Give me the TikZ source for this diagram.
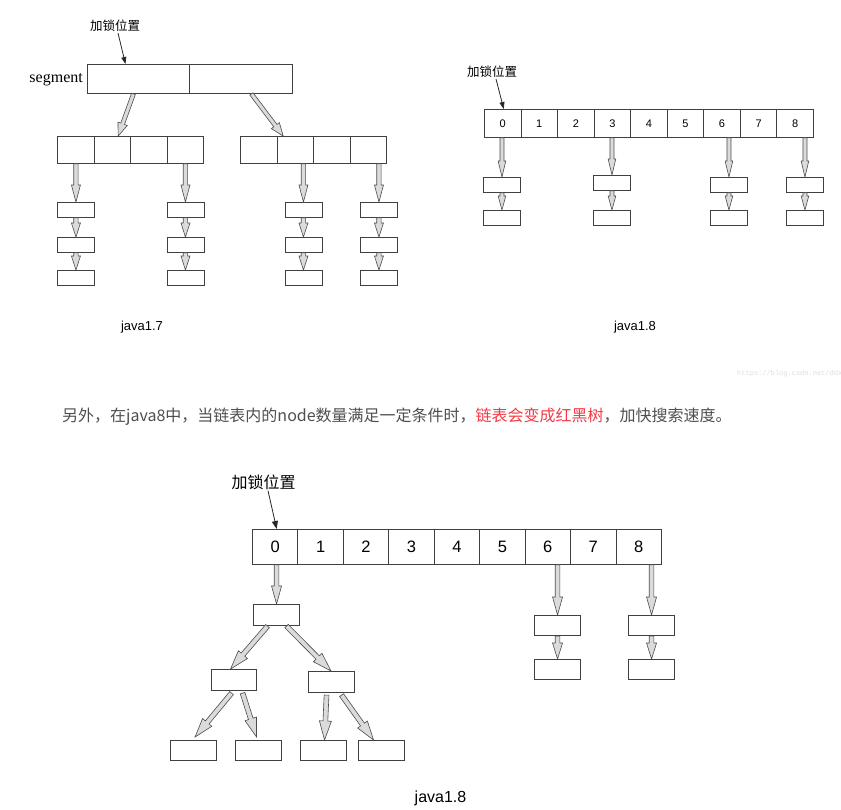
\documentclass[tikz,border=0pt]{standalone}
\usepackage{fontspec}
\setmainfont{Liberation Sans}
\newfontfamily\cjkfont{Noto Sans CJK SC}
\newfontfamily\timesfont{Liberation Serif}
\newfontfamily\wmfont{Liberation Mono}
\usetikzlibrary{calc,arrows.meta}

\definecolor{bodytext}{HTML}{4F4F4F}
\definecolor{hilite}{HTML}{F33B45}

\tikzset{
  cellbox/.style={draw=black!75, line width=0.9pt, fill=white, inner sep=0pt, anchor=north west},
  sz/.style 2 args={minimum width=#1pt, minimum height=#2pt},
  fat/.style={draw=black!70, fill=black!14, line width=0.6pt, line join=miter},
  pointer/.style={-{Triangle[length=7pt,width=5pt]}, line width=0.8pt, black!85},
  lock/.style={font=\cjkfont\fontsize{12.5}{12.5}\selectfont, inner sep=1pt},
  caption/.style={font=\fontsize{13}{13}\selectfont, inner sep=0pt},
}

% hollow block arrow: #1 shaft half width, #2 head half width, #3 head length, #4 from, #5 to
\newcommand\fatarrow[5]{%
  \path #4 coordinate (fA) #5 coordinate (fB);
  \path ($(fB)!#3pt!(fA)$) coordinate (fH);
  \filldraw[fat] ($(fA)!#1pt!90:(fB)$) -- ($(fH)!#1pt!90:(fB)$) -- ($(fH)!#2pt!90:(fB)$)
    -- (fB) -- ($(fH)!#2pt!-90:(fB)$) -- ($(fH)!#1pt!-90:(fB)$) -- ($(fA)!#1pt!-90:(fB)$) -- cycle;
}

\begin{document}
\begin{tikzpicture}[x=1pt,y=-1pt]
\useasboundingbox[fill=white] (0,0) rectangle (841,809);

% ---------------- java 1.7: segments ----------------
\node[lock] (k1) at (115,26) {加锁位置};
\node[anchor=base east, inner sep=0pt, font=\timesfont\fontsize{16}{16}\selectfont] (seglabel) at (83,82) {segment};
\node[cellbox, sz={102}{29}] (s1) at (87,64) {};
\node[cellbox, sz={103}{29}] (s2) at (189,64) {};
\draw[pointer] ([xshift=3pt]k1.south) -- ([xshift=-13pt]s1.north);

\foreach \i in {1,...,4} {
  \node[cellbox, sz={36.5}{27}] (L\i) at ({57+36.5*(\i-1)},136) {};
  \node[cellbox, sz={36.5}{27}] (R\i) at ({240+36.5*(\i-1)},136) {};
}
\fatarrow{2}{5}{13}{([xshift=-5pt]s1.south)}{([xshift=6pt]L2.north)}
\fatarrow{2}{5}{13}{([xshift=10.5pt]s2.south)}{([xshift=-12pt]R2.north)}

% linked lists hanging off the buckets
\foreach \n/\x in {a/57, b/166.5, c/284.5, d/360} {
  \node[cellbox, sz={37}{15}] (\n1) at (\x,202) {};
  \node[cellbox, sz={37}{15}] (\n2) at (\x,237) {};
  \node[cellbox, sz={37}{15}] (\n3) at (\x,270) {};
}
\foreach \n/\h in {a/L1, b/L4, c/R2, d/R4} {
  \fatarrow{2.2}{4.5}{17}{(\h.south -| \n1.north)}{(\n1.north)}
  \fatarrow{2.2}{4.5}{14}{(\n1.south)}{(\n2.north)}
  \fatarrow{2.2}{4.5}{14}{(\n2.south)}{(\n3.north)}
}
\node[caption] (cap17) at (142,327) {java1.7};

% ---------------- java 1.8: table of buckets ----------------
\node[lock] (k2) at (492,72) {加锁位置};
\foreach \i in {0,...,8} {
  \node[cellbox, sz={36.55}{28}, font=\fontsize{11}{11}\selectfont] (t\i) at ({484+36.55*\i},109) {\i};
}
\draw[pointer] ([xshift=4pt]k2.south) -- ([xshift=1pt]t0.north);

\foreach \n/\x/\y in {u/483/177, v/593/175, w/710/177, z/786/177} {
  \node[cellbox, sz={37}{15}] (\n1) at (\x,\y) {};
  \node[cellbox, sz={37}{15}] (\n2) at (\x,210) {};
}
\foreach \n/\h in {u/t0, v/t3, w/t6, z/t8} {
  \fatarrow{2}{3.8}{16}{(\h.south -| \n1.north)}{(\n1.north)}
  \fatarrow{2}{3.8}{14}{(\n1.south)}{(\n2.north)}
}
\node[caption] (cap18a) at (635,327) {java1.8};

% ---------------- note ----------------
\node[anchor=base west, inner sep=0pt, text=bodytext, font=\cjkfont\fontsize{16}{16}\selectfont] (note) at (62,421)
  {另外，在java8中，当链表内的node数量满足一定条件时，\textcolor{hilite}{链表会变成红黑树}，加快搜索速度。};
\node[anchor=base west, inner sep=0pt, text=black!13, font=\wmfont\fontsize{7}{7}\selectfont] (mark) at (737,375)
  {https://blog.csdn.net/ddx};

% ---------------- java 1.8: list turned into a red-black tree ----------------
\node[lock, font=\cjkfont\fontsize{16}{16}\selectfont] (k3) at (263.5,482) {加锁位置};
\foreach \i in {0,...,8} {
  \node[cellbox, sz={45.44}{35}, font=\fontsize{16.5}{16.5}\selectfont] (b\i) at ({252+45.44*\i},529) {\i};
}
\draw[pointer, -{Triangle[length=8pt,width=6pt]}] ([xshift=4.5pt]k3.south) -- ([xshift=1.5pt]b0.north);

\node[cellbox, sz={46}{21}, line width=1.1pt] (r)  at (253,604) {};
\node[cellbox, sz={45}{21}, line width=1.1pt] (lc) at (211,669) {};
\node[cellbox, sz={46}{21}, line width=1.1pt] (rc) at (307.5,671) {};
\node[cellbox, sz={46}{20}, line width=1.1pt] (ll) at (170,740) {};
\node[cellbox, sz={46}{20}, line width=1.1pt] (lr) at (235,740) {};
\node[cellbox, sz={46}{20}, line width=1.1pt] (rl) at (300,740) {};
\node[cellbox, sz={46}{20}, line width=1.1pt] (rr) at (358,740) {};

\fatarrow{2.3}{5}{18}{(b0.south -| r.north)}{(r.north)}
\fatarrow{2.4}{6}{19}{([xshift=-9pt]r.south)}{([xshift=-3.5pt]lc.north)}
\fatarrow{2.4}{6}{19}{([xshift=10pt]r.south)}{(rc.north)}
\fatarrow{2.4}{6}{19}{([xshift=-2.5pt,yshift=-2pt]lc.south)}{([xshift=1.5pt,yshift=3pt]ll.north)}
\fatarrow{2.4}{6}{19}{([xshift=8.5pt,yshift=-2pt]lc.south)}{([xshift=-2pt,yshift=3pt]lr.north)}
\fatarrow{2.4}{6}{19}{([xshift=-4.5pt,yshift=-2pt]rc.south)}{([xshift=1pt]rl.north)}
\fatarrow{2.4}{6}{19}{([xshift=10.5pt,yshift=-2pt]rc.south)}{([xshift=-8pt]rr.north)}

\foreach \n/\x in {p/534, q/628} {
  \node[cellbox, sz={46}{20}, line width=1.1pt] (\n1) at (\x,615) {};
  \node[cellbox, sz={46}{20}, line width=1.1pt] (\n2) at (\x,659) {};
}
\foreach \n/\h in {p/b6, q/b8} {
  \fatarrow{2.3}{5}{18}{(\h.south -| \n1.north)}{(\n1.north)}
  \fatarrow{2.3}{5}{16}{(\n1.south)}{(\n2.north)}
}
\node[caption, font=\fontsize{16}{16}\selectfont] (cap18b) at (440.5,798) {java1.8};

\end{tikzpicture}
\end{document}
